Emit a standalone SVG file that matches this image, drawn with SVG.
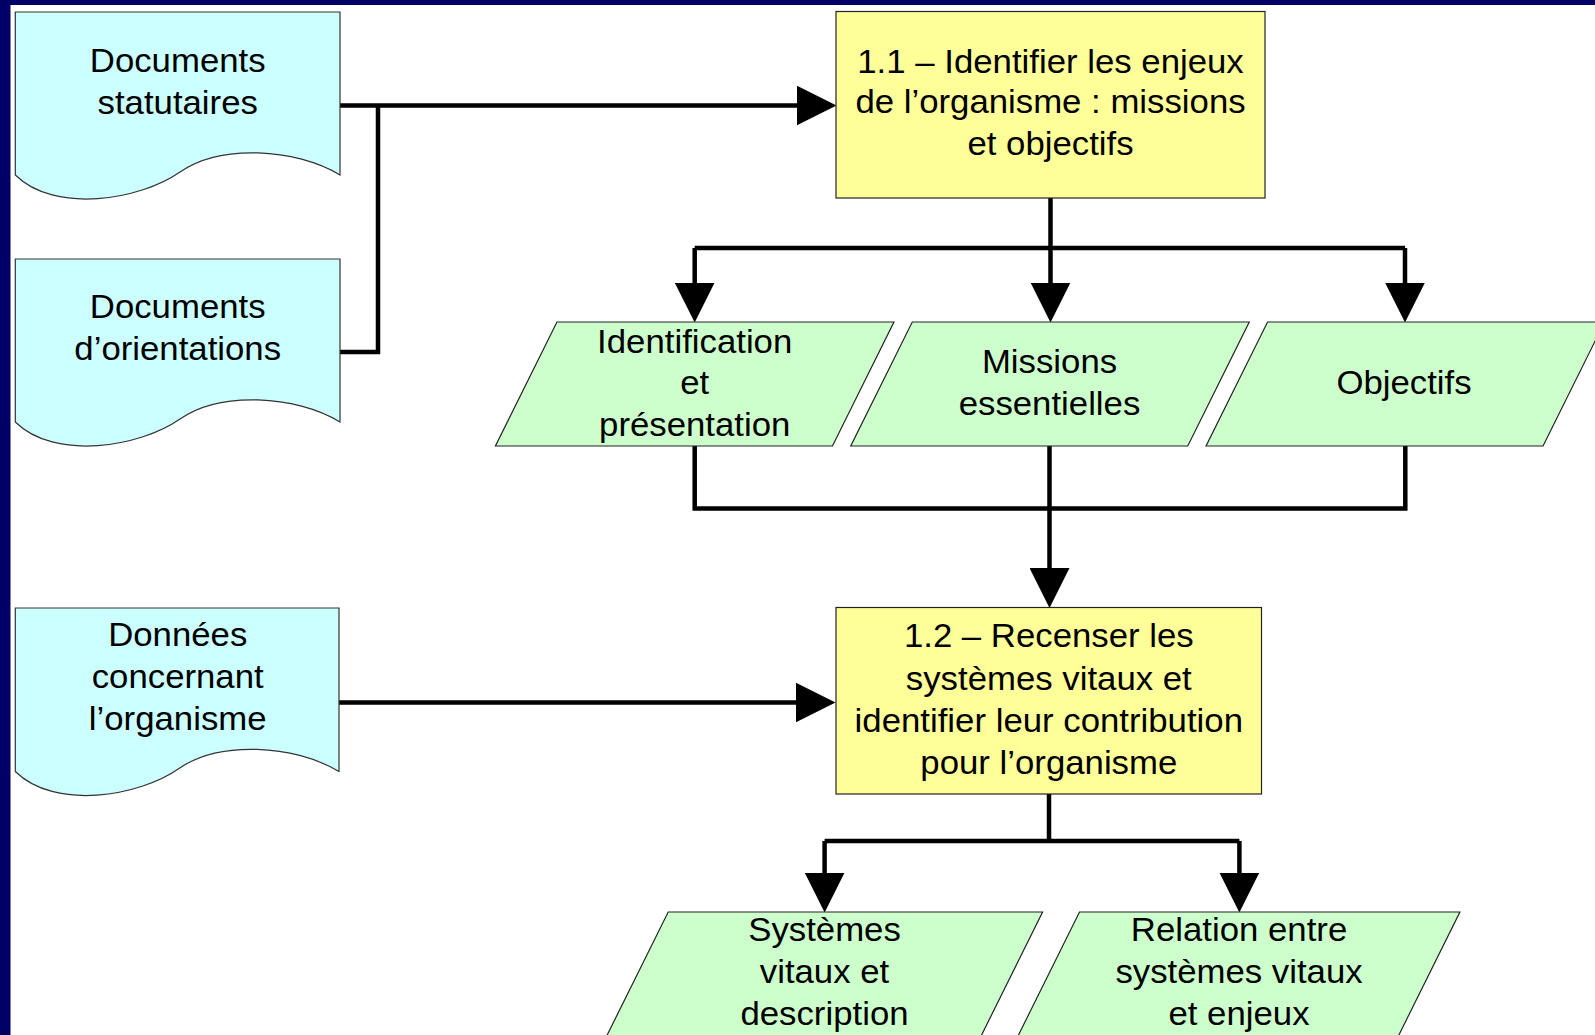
<svg xmlns="http://www.w3.org/2000/svg" width="1595" height="1035" viewBox="0 0 1595 1035">
<style>
.t{font-family:"Liberation Sans",Arial,Helvetica,sans-serif;font-size:32.5px;fill:#000;text-anchor:middle}
.doc{fill:#CCFFFF;stroke:#333;stroke-width:1.2}
.proc{fill:#FFFF99;stroke:#222;stroke-width:1.2}
.data{fill:#CCFFCC;stroke:#222;stroke-width:1.2}
.c{fill:none;stroke:#000;stroke-width:4.5;stroke-linejoin:miter}
.ca{fill:none;stroke:#000;stroke-width:4.5;marker-end:url(#ah)}
</style>
<defs>
<marker id="ah" markerUnits="userSpaceOnUse" markerWidth="40" markerHeight="40" viewBox="0 0 38 38" refX="28" refY="19" orient="auto">
<path d="M0,0 L38,19 L0,38 Z" fill="#000"/>
</marker>
</defs>
<rect x="0" y="0" width="1595" height="1035" fill="#000066"/>
<rect x="10.5" y="5" width="1585" height="1030" fill="#FFFFFF"/>

<g id="connectors">
<path class="ca" d="M338,105.5 H826"/>
<path class="c" d="M338,352 H378 V105.5"/>
<path class="c" d="M694.7,248 H1405"/>
<path class="ca" d="M1050.5,198 V312"/>
<path class="ca" d="M694.7,248 V312"/>
<path class="ca" d="M1405,248 V312"/>
<path class="c" d="M694.7,446 V508.5 H1405.3 V446"/>
<path class="ca" d="M1049.5,446 V597.5"/>
<path class="ca" d="M338.7,702.5 H825"/>
<path class="c" d="M824.6,841 H1239.4"/>
<path class="c" d="M1049,794 V841"/>
<path class="ca" d="M824.6,841 V902"/>
<path class="ca" d="M1239.4,841 V902"/>
</g>

<g id="doc-statutaires">
<path class="doc" d="M15.3,12 H340 V175 C295,148 220,144 180,172 C140,200 55,214 15.3,175 Z"/>
<text class="t" transform="translate(177.7 0) scale(1.07 1)"><tspan x="0" y="72.5">Documents</tspan><tspan x="0" y="114">statutaires</tspan></text>
</g>

<g id="doc-orientations">
<path class="doc" d="M15.3,259 H340 V422 C295,395 220,391 180,419 C140,447 55,461 15.3,422 Z"/>
<text class="t" transform="translate(177.7 0) scale(1.07 1)"><tspan x="0" y="318.5">Documents</tspan><tspan x="0" y="360">d’orientations</tspan></text>
</g>

<g id="doc-donnees">
<path class="doc" d="M15.3,608 H339 V771.5 C294,744.5 219,740.5 179,768.5 C139,796.5 55,810.5 15.3,771.5 Z"/>
<text class="t" transform="translate(177.7 0) scale(1.07 1)"><tspan x="0" y="646.5">Données</tspan><tspan x="0" y="688.5">concernant</tspan><tspan x="0" y="730">l’organisme</tspan></text>
</g>

<g id="step-1-1">
<rect class="proc" x="836" y="11.5" width="429" height="186.5"/>
<text class="t" transform="translate(1050.5 0) scale(1.07 1)"><tspan x="0" y="72.7">1.1 – Identifier les enjeux</tspan><tspan x="0" y="113.5">de l’organisme : missions</tspan><tspan x="0" y="155.3">et objectifs</tspan></text>
</g>

<g id="out-identification">
<polygon class="data" points="556.95,322 893.95,322 832.45,446 495.45,446"/>
<text class="t" transform="translate(694.7 0) scale(1.07 1)"><tspan x="0" y="352.7">Identification</tspan><tspan x="0" y="394.5">et</tspan><tspan x="0" y="436">présentation</tspan></text>
</g>

<g id="out-missions">
<polygon class="data" points="912.25,322 1249.25,322 1187.75,446 850.75,446"/>
<text class="t" transform="translate(1049.5 0) scale(1.07 1)"><tspan x="0" y="373.5">Missions</tspan><tspan x="0" y="415.3">essentielles</tspan></text>
</g>

<g id="out-objectifs">
<polygon class="data" points="1267.55,322 1604.55,322 1543.05,446 1206.05,446"/>
<text class="t" transform="translate(1404 0) scale(1.07 1)"><tspan x="0" y="393.8">Objectifs</tspan></text>
</g>

<g id="step-1-2">
<rect class="proc" x="836" y="607.5" width="425.5" height="186.5"/>
<text class="t" transform="translate(1048.8 0) scale(1.07 1)"><tspan x="0" y="647.5">1.2 – Recenser les</tspan><tspan x="0" y="690">systèmes vitaux et</tspan><tspan x="0" y="732">identifier leur contribution</tspan><tspan x="0" y="774.5">pour l’organisme</tspan></text>
</g>

<g id="out-systemes">
<polygon class="data" points="668.2,912 1042.6,912 981.1,1036 606.7,1036"/>
<text class="t" transform="translate(824.5 0) scale(1.07 1)"><tspan x="0" y="941">Systèmes</tspan><tspan x="0" y="983.5">vitaux et</tspan><tspan x="0" y="1025.5">description</tspan></text>
</g>

<g id="out-relation">
<polygon class="data" points="1079.5,912 1459.9,912 1398.4,1036 1018,1036"/>
<text class="t" transform="translate(1239 0) scale(1.07 1)"><tspan x="0" y="941">Relation entre</tspan><tspan x="0" y="983.5">systèmes vitaux</tspan><tspan x="0" y="1025.5">et enjeux</tspan></text>
</g>
</svg>
